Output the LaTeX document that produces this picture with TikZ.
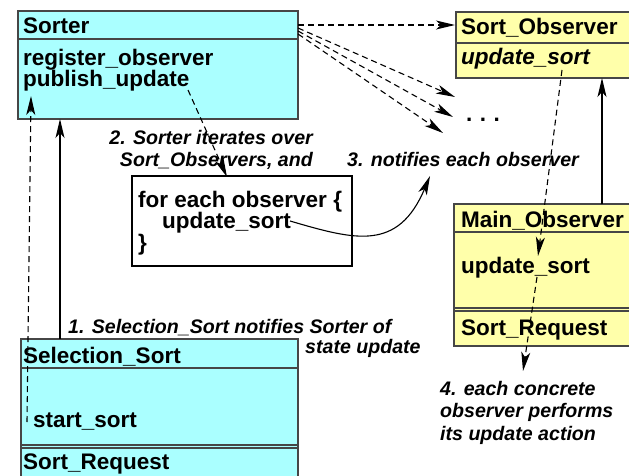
\documentclass[tikz,border=0pt]{standalone}
\usepackage{fontspec}
\setmainfont{Liberation Sans}
\usetikzlibrary{arrows.meta}
\definecolor{classcyan}{RGB}{170,255,255}
\definecolor{classyellow}{RGB}{255,255,170}
\definecolor{edgegray}{RGB}{70,70,70}
\begin{document}
\begin{tikzpicture}[x=1pt,y=-1pt,
  box/.style={draw=edgegray,line width=1.1pt,anchor=north west,inner sep=0pt,outer sep=0pt},
  cyanbox/.style={box,fill=classcyan},
  yellowbox/.style={box,fill=classyellow},
  rule/.style={draw=edgegray,line width=1.1pt},
  boxtext/.style={anchor=base west,inner sep=0pt,font=\fontsize{22.5}{26}\selectfont\bfseries},
  note/.style={inner sep=0pt,font=\fontsize{19.6}{24}\selectfont\bfseries\itshape},
  tip/.style={-{Stealth[length=19pt,width=9pt,inset=5pt]}},
  flow/.style={tip,line width=1.1pt},
  msg/.style={tip,line width=1.1pt,dash pattern=on 6pt off 4pt}]
\useasboundingbox (0,0) rectangle (629,476);
\fill[white] (0,0) rectangle (629,476);

% class boxes
\node[cyanbox,minimum width=280pt,minimum height=108pt] (sorter) at (18,11) {};
\draw[rule] (18,39) -- (298,39);
\node[yellowbox,minimum width=190pt,minimum height=66pt] (sortobs) at (456,12) {};
\draw[rule] (456,43) -- (646,43);
\node[yellowbox,minimum width=190pt,minimum height=142pt] (mainobs) at (454,204) {};
\draw[rule] (454,232) -- (644,232);
\draw[rule] (454,308) -- (644,308);
\draw[rule] (454,311) -- (644,311);
\node[cyanbox,minimum width=277pt,minimum height=150pt] (selsort) at (21,339) {};
\draw[rule] (21,368) -- (298,368);
\draw[rule] (21,445) -- (298,445);
\draw[rule] (21,448) -- (298,448);
\node[box,draw=black,fill=white,minimum width=220pt,minimum height=90pt] (loop) at (132,176) {};

% box texts
\node[boxtext] (sorterName) at (23,34) {Sorter};
\node[boxtext] (regObs) at (23,66) {register\_observer};
\node[boxtext] (pubUpd) at (23,87) {publish\_update};
\node[boxtext] (sortObsName) at (461,35) {Sort\_Observer};
\node[boxtext,font=\fontsize{22.5}{26}\selectfont\bfseries\itshape] (sortObsOp) at (461,65) {update\_sort};
\node[boxtext] (mainObsName) at (461,227) {Main\_Observer};
\node[boxtext] (mainObsOp) at (461,273) {update\_sort};
\node[boxtext] (mainObsReq) at (461,335) {Sort\_Request};
\node[boxtext] (selName) at (23,363) {Selection\_Sort};
\node[boxtext] (selOp) at (33,427) {start\_sort};
\node[boxtext] (selReq) at (23,469) {Sort\_Request};
\node[boxtext] (loopA) at (138,207) {for each observer \{};
\node[boxtext] (loopB) at (162,228) {update\_sort};
\node[boxtext] (loopC) at (138,250) {\}};
\node[boxtext] (more) at (466,122) {.\,\,.\,\,.};

% step notes
\node[note,anchor=base east] (n2a) at (313,145) {2. Sorter iterates over};
\node[note,anchor=base east] (n2b) at (313,167) {Sort\_Observers, and};
\node[note,anchor=base west] (n3) at (347,167) {3. notifies each observer};
\node[note,anchor=base west] (n1a) at (68,333) {1. Selection\_Sort notifies Sorter of};
\node[note,anchor=base west] (n1b) at (305,353) {state update};
\node[note,anchor=base west] (n4a) at (440,395) {4. each concrete};
\node[note,anchor=base west] (n4b) at (440,417) {observer performs};
\node[note,anchor=base west] (n4c) at (440,440) {its update action};

% connector end points
\coordinate (startFrom) at (27,422);
\coordinate (startTo) at (31,96);
\coordinate (pubFrom) at (188,90);
\coordinate (loopTop) at (227,177);
\coordinate (obsOut0) at (298,25);
\coordinate (obsIn0) at (455,25);
\coordinate (obsOut1) at (298,28);
\coordinate (obsIn1) at (455,97);
\coordinate (obsOut2) at (298,31);
\coordinate (obsIn2) at (453,117);
\coordinate (obsOut3) at (298,34);
\coordinate (obsIn3) at (443,133);
\coordinate (callFrom) at (290,221);
\coordinate (callTo) at (430,176);
\coordinate (selTop) at (60,339);
\coordinate (sorterBottom) at (60,119);
\coordinate (mainTop) at (602,204);
\coordinate (obsBottom) at (602,78);
\coordinate (opFrom) at (562,70);
\coordinate (opTo) at (538,256);
\coordinate (actFrom) at (537,277);
\coordinate (actTo) at (523,371);

% connectors
\draw[flow] (selTop) -- (sorterBottom);
\draw[msg] (startFrom) -- (startTo);
\draw[msg] (pubFrom) -- (loopTop);
\draw[msg] (obsOut0) -- (obsIn0);
\draw[msg] (obsOut1) -- (obsIn1);
\draw[msg] (obsOut2) -- (obsIn2);
\draw[msg] (obsOut3) -- (obsIn3);
\draw[flow] (callFrom) .. controls (355,240) and (398,252) .. (callTo);
\draw[flow] (mainTop) -- (obsBottom);
\draw[msg] (opFrom) -- (opTo);
\draw[msg] (actFrom) -- (actTo);
\end{tikzpicture}
\end{document}
